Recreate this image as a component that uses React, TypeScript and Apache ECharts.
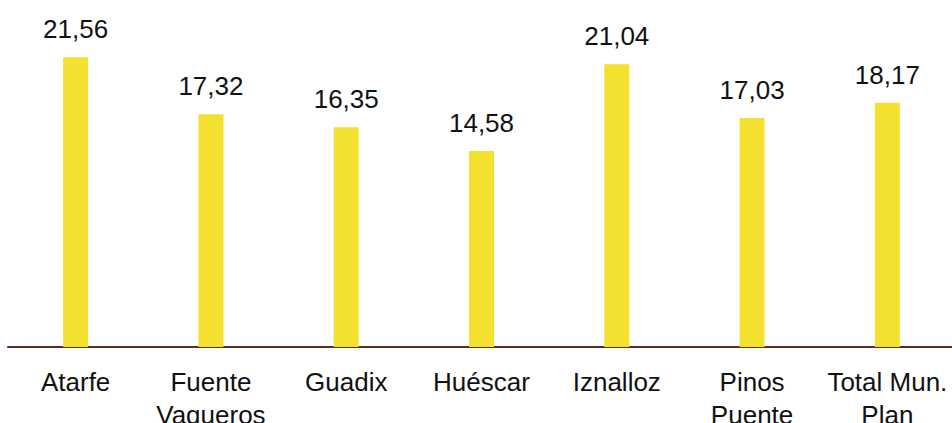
import React, { useEffect, useRef } from "react";
import * as echarts from "echarts";

const categories = ["Atarfe", "Fuente\nVaqueros", "Guadix", "Huéscar", "Iznalloz", "Pinos\nPuente", "Total Mun.\nPlan"];
const values = [21.56, 17.32, 16.35, 14.58, 21.04, 17.03, 18.17];

const FONT = "Liberation Sans, Arial, Helvetica, sans-serif";

export default function App() {
  const ref = useRef<HTMLDivElement>(null);
  useEffect(() => {
    const chart = echarts.init(ref.current!, null, { renderer: "svg" });
    chart.setOption({
      animation: false,
      grid: { left: 8, right: -3, top: 11, bottom: 76, containLabel: false, outerBoundsMode: "none" },
      xAxis: {
        type: "category",
        data: categories,
        axisTick: { show: false },
        axisLine: { lineStyle: { color: "#5b2e22", width: 2 } },
        axisLabel: {
          interval: 0,
          fontSize: 26,
          lineHeight: 33,
          margin: 18,
          color: "#111",
          fontFamily: FONT,
        },
      },
      yAxis: { type: "value", min: 0, max: 25, show: false, splitLine: { show: false } },
      series: [
        {
          type: "bar",
          data: values,
          barWidth: 25,
          itemStyle: { color: "#f4e02f" },
          label: {
            show: true,
            position: "top",
            distance: 15,
            fontSize: 26,
            color: "#111",
            fontFamily: FONT,
            formatter: (p: any) => p.value.toFixed(2).replace(".", ","),
          },
        },
      ],
    });
    return () => chart.dispose();
  }, []);
  return <div ref={ref} style={{ position: "absolute", left: 0, top: 0, width: 952, height: 423 }} />;
}
